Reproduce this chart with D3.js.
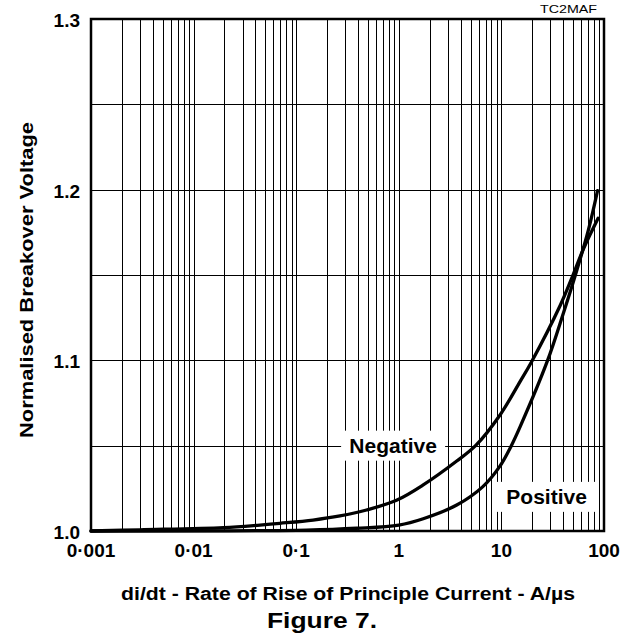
<!DOCTYPE html>
<html lang="en">
<head>
    <meta charset="UTF-8">
    <title>Figure 7</title>
    <script src="https://d3js.org/d3.v7.min.js"></script>
    <style>
        body { margin: 0; background: #fff; }
        svg text { font-family: "Liberation Sans", Arial, sans-serif; fill: #000; font-weight: bold; }
        .tick-label { font-size: 19px; }
        .axis-title { font-size: 18px; }
        .grid line { stroke: #000; stroke-width: 1px; shape-rendering: crispEdges; }
        .curve { fill: none; stroke: #000; stroke-width: 3.3px; stroke-linejoin: round; stroke-linecap: round; }
    </style>
</head>
<body>
    <div id="chart"></div>
    <script>
        // values
        const negX = [0.001, 0.003, 0.0195, 0.0444, 0.0695, 0.146, 0.267, 0.485, 0.95, 1.73, 3.67, 5.6, 9.7, 15.2, 19.7, 37.3, 48.4, 62.8, 87.6];
        const negY = [1.000, 1.0007, 1.002, 1.0035, 1.0045, 1.0064, 1.0088, 1.0123, 1.018, 1.027, 1.041, 1.050, 1.068, 1.0875, 1.0992, 1.132, 1.148, 1.165, 1.1832];
        const posX = [0.001, 0.126, 0.388, 1.0, 1.73, 3.67, 6.6, 9.6, 12.5, 15.2, 27.9, 40.1, 52.0, 70.5, 86.5];
        const posY = [1.000, 1.0005, 1.0016, 1.0035, 1.0072, 1.0152, 1.026, 1.0377, 1.05, 1.061, 1.0992, 1.1275, 1.149, 1.1764, 1.1994];

        const xTicks = [0.001, 0.01, 0.1, 1, 10, 100];
        const xTickLabels = ["0·001", "0·01", "0·1", "1", "10", "100"];
        const yTicks = [1.0, 1.1, 1.2, 1.3];
        const yTickLabels = ["1.0", "1.1", "1.2", "1.3"];
        const yGrid = [1.05, 1.1, 1.15, 1.2, 1.25];

        const labels = [
            { text: "Negative", x: 0.88, y: 1.05 },
            { text: "Positive", x: 27.6, y: 1.02 }
        ];

        const W = 632, H = 637;
        const margin = { top: 19, right: 28, bottom: 106, left: 91 };
        const width = W - margin.left - margin.right;
        const height = H - margin.top - margin.bottom;

        const svg = d3.select("#chart").append("svg")
            .attr("width", W)
            .attr("height", H);

        const g = svg.append("g")
            .attr("transform", `translate(${margin.left},${margin.top})`);

        const x = d3.scaleLog().domain([0.001, 100]).range([0, width]);
        const y = d3.scaleLinear().domain([1.0, 1.3]).range([height, 0]);

        // grid
        const grid = g.append("g").attr("class", "grid");
        grid.selectAll(".vx")
            .data(x.ticks())
            .enter().append("line")
            .attr("x1", d => Math.round(x(d)) + 0.5)
            .attr("x2", d => Math.round(x(d)) + 0.5)
            .attr("y1", 0)
            .attr("y2", height);
        grid.selectAll(".hy")
            .data(yGrid)
            .enter().append("line")
            .attr("x1", 0)
            .attr("x2", width)
            .attr("y1", d => Math.round(y(d)) + 0.5)
            .attr("y2", d => Math.round(y(d)) + 0.5);

        // frame
        g.append("rect")
            .attr("width", width)
            .attr("height", height)
            .attr("fill", "none")
            .attr("stroke", "#000")
            .attr("stroke-width", 2.5);

        // curves
        const line = d3.line()
            .x(d => x(d[0]))
            .y(d => y(d[1]))
            .curve(d3.curveCatmullRom.alpha(0.5));

        g.append("path")
            .attr("class", "curve")
            .attr("d", line(negX.map((v, i) => [v, negY[i]])));
        g.append("path")
            .attr("class", "curve")
            .attr("d", line(posX.map((v, i) => [v, posY[i]])));

        // curve labels on white boxes
        labels.forEach(l => {
            const cx = x(l.x), cy = y(l.y);
            g.append("rect")
                .attr("x", cx - 52)
                .attr("y", cy - 15)
                .attr("width", 104)
                .attr("height", 30)
                .attr("fill", "#fff");
            g.append("text")
                .attr("x", cx)
                .attr("y", cy + 7.5)
                .attr("text-anchor", "middle")
                .style("font-size", "21px")
                .text(l.text);
        });

        // tick labels
        g.selectAll(".xl")
            .data(xTicks)
            .enter().append("text")
            .attr("class", "tick-label")
            .attr("x", d => x(d))
            .attr("y", height + 26)
            .attr("text-anchor", "middle")
            .text((d, i) => xTickLabels[i]);

        g.selectAll(".yl")
            .data(yTicks)
            .enter().append("text")
            .attr("class", "tick-label")
            .attr("x", -11)
            .attr("y", d => y(d) + 8)
            .attr("text-anchor", "end")
            .text((d, i) => yTickLabels[i]);

        // axis titles (stretched a little, as in the original scan)
        svg.append("text")
            .attr("class", "axis-title")
            .attr("x", 121)
            .attr("y", 600)
            .attr("textLength", 454)
            .attr("lengthAdjust", "spacingAndGlyphs")
            .text("di/dt - Rate of Rise of Principle Current - A/µs");

        svg.append("text")
            .attr("class", "axis-title")
            .attr("transform", "translate(33,438) rotate(-90)")
            .attr("textLength", 316)
            .attr("lengthAdjust", "spacingAndGlyphs")
            .text("Normalised Breakover Voltage");

        svg.append("text")
            .attr("x", 267)
            .attr("y", 628)
            .attr("textLength", 110)
            .attr("lengthAdjust", "spacingAndGlyphs")
            .style("font-size", "22px")
            .text("Figure 7.");

        svg.append("text")
            .attr("x", 540)
            .attr("y", 13)
            .attr("textLength", 57)
            .attr("lengthAdjust", "spacingAndGlyphs")
            .style("font-size", "11px")
            .style("font-weight", "normal")
            .text("TC2MAF");
    </script>
</body>
</html>
